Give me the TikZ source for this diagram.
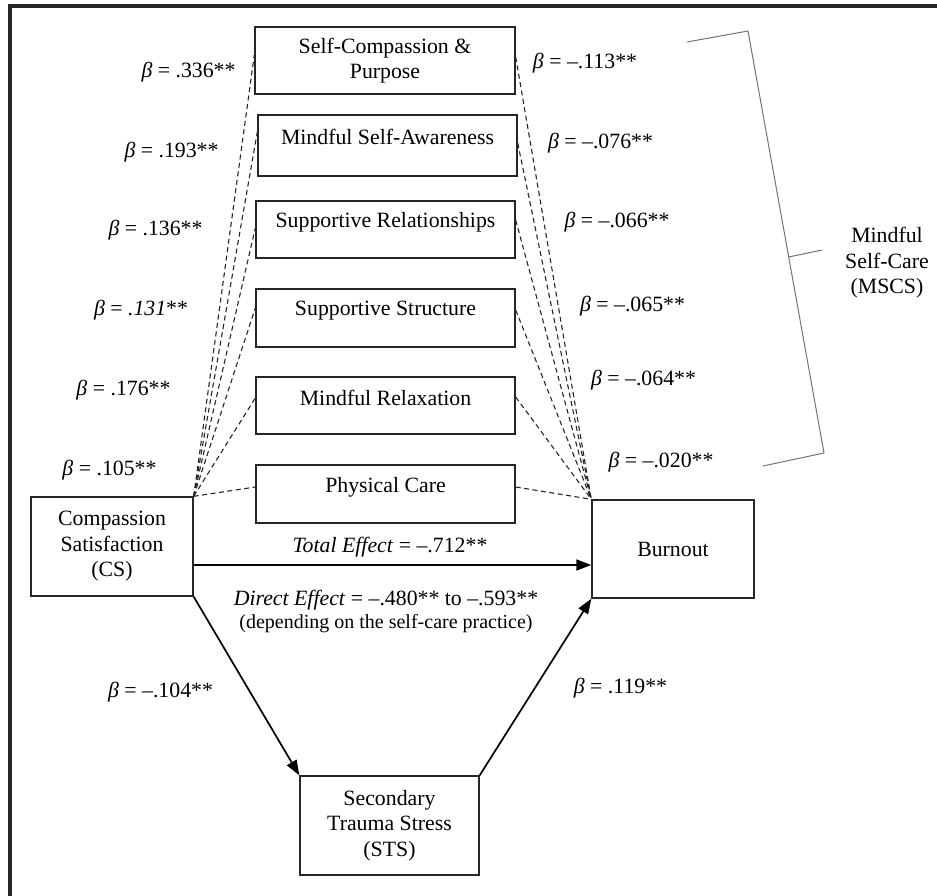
\documentclass[tikz,border=0pt]{standalone}
\usepackage{fontspec}
\setmainfont{Liberation Serif}
\usetikzlibrary{arrows.meta}
\begin{document}
\begin{tikzpicture}[x=1pt,y=-1pt,
  every node/.style={font=\fontsize{21.8}{25.5}\selectfont},
  box/.style={draw=black!85,line width=1.4pt,inner sep=0pt},
  mbox/.style={box,minimum width=259pt},
  lbl/.style={inner sep=0pt,anchor=center},
  dsh/.style={draw=black!85,line width=1.1pt,dash pattern=on 5pt off 3.5pt},
  arr/.style={draw=black,line width=1.7pt,-{Triangle[length=15pt,width=11pt]}},
  brk/.style={draw=black!55,line width=1pt}]
\useasboundingbox (0,0) rectangle (937,895);
% frame
\draw[line width=3.2pt,black!85] (10,900) -- (10,6) -- (945,6);
% mediator boxes
\node[mbox,minimum width=260pt,minimum height=67pt] (m1) at (385,60.5) {};
\node[mbox,minimum height=61pt] (m2) at (387.5,145.5) {};
\node[mbox,minimum height=57pt] (m3) at (385.5,229.5) {};
\node[mbox,minimum height=58pt] (m4) at (385.5,318) {};
\node[mbox,minimum height=57pt] (m5) at (385.5,405.5) {};
\node[mbox,minimum height=58pt] (m6) at (385.5,494) {};
\node[lbl,align=center] (t1) at (385,60.5) {Self-Compassion \&\\Purpose};
\node[lbl] (t2) at (387.5,137) {Mindful Self-Awareness};
\node[lbl] (t3) at (385.5,222) {Supportive Relationships};
\node[lbl] (t4) at (385.5,311) {Supportive Structure};
\node[lbl] (t5) at (385.5,398) {Mindful Relaxation};
\node[lbl] (t6) at (385.5,487) {Physical Care};
% main boxes
\node[box,minimum width=162pt,minimum height=99pt,align=center] (cs) at (112,546.5) {Compassion\\Satisfaction\\(CS)};
\node[box,minimum width=162pt,minimum height=98pt] (bo) at (673,549) {Burnout};
\node[box,minimum width=179pt,minimum height=99pt,align=center] (sts) at (389.5,825.5) {Secondary\\Trauma Stress\\(STS)};
% dashed paths
\draw[dsh] (cs.north east) -- ([yshift=5.5pt]m1.west);
\draw[dsh] (cs.north east) -- ([yshift=13.5pt]m2.west);
\draw[dsh] (cs.north east) -- ([yshift=1.5pt]m3.west);
\draw[dsh] (cs.north east) -- ([yshift=10pt]m4.west);
\draw[dsh] (cs.north east) -- ([yshift=7.5pt]m5.west);
\draw[dsh] (cs.north east) -- ([yshift=7pt]m6.west);
\draw[dsh] ([yshift=3.5pt]m1.east) -- (bo.north west);
\draw[dsh] ([yshift=2.5pt]m2.east) -- (bo.north west);
\draw[dsh] ([yshift=9.5pt]m3.east) -- (bo.north west);
\draw[dsh] ([yshift=8pt]m4.east) -- (bo.north west);
\draw[dsh] ([yshift=8.5pt]m5.east) -- (bo.north west);
\draw[dsh] ([yshift=7pt]m6.east) -- (bo.north west);
% solid arrows
\draw[arr] ([yshift=-18.5pt]cs.east) -- ([yshift=-18.5pt]cs.east -| bo.west);
\draw[arr] (cs.south east) -- (sts.north west);
\draw[arr] (sts.north east) -- (bo.south west);
% left coefficients
\node[lbl] (l1) at (188.5,72) {\textit{β} = .336**};
\node[lbl] (l2) at (171.5,152) {\textit{β} = .193**};
\node[lbl] (l3) at (155.5,230) {\textit{β} = .136**};
\node[lbl] (l4) at (141,310) {\textit{β} = \textit{.131}**};
\node[lbl] (l5) at (123.5,390) {\textit{β} = .176**};
\node[lbl] (l6) at (109.5,470) {\textit{β} = .105**};
% right coefficients
\node[lbl] (r1) at (585,63) {\textit{β} = –.113**};
\node[lbl] (r2) at (600.5,143) {\textit{β} = –.076**};
\node[lbl] (r3) at (617,222) {\textit{β} = –.066**};
\node[lbl] (r4) at (632.5,306) {\textit{β} = –.065**};
\node[lbl] (r5) at (643.5,380) {\textit{β} = –.064**};
\node[lbl] (r6) at (661,462) {\textit{β} = –.020**};
% effects
\node[lbl] (te) at (390,547) {\textit{Total Effect} = –.712**};
\node[lbl] (de) at (386,600) {\textit{Direct Effect} = –.480** to –.593**};
\node[lbl,font=\fontsize{20}{23}\selectfont] (dp) at (386,624) {(depending on the self-care practice)};
\node[lbl] (b1) at (160.5,692) {\textit{β} = –.104**};
\node[lbl] (b2) at (620.5,688) {\textit{β} = .119**};
% bracket
\coordinate (k1) at (687,42);
\coordinate (k2) at (748,31);
\coordinate (k3) at (824,453);
\coordinate (k4) at (763,466);
\coordinate (k5) at (788.7,257);
\coordinate (k6) at (822,250);
\draw[brk] (k1) -- (k2) -- (k3) -- (k4);
\draw[brk] (k5) -- (k6);
\node[lbl,align=center] (ms) at (887,263) {Mindful\\Self-Care\\(MSCS)};
\end{tikzpicture}
\end{document}
